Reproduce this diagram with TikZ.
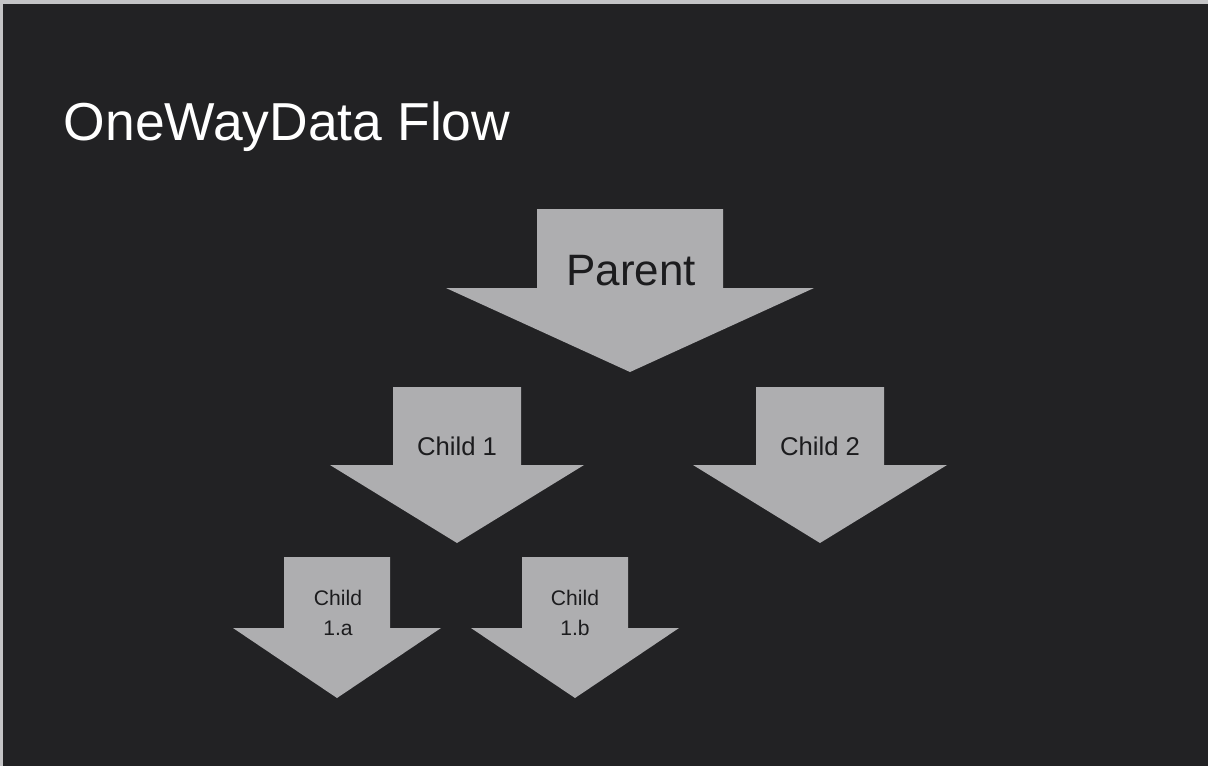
\documentclass[tikz,border=0pt]{standalone}
\usepackage{fontspec}
\setmainfont{Liberation Sans}
\definecolor{slidebg}{RGB}{34,34,36}
\definecolor{slideedge}{RGB}{196,196,198}
\definecolor{arrowgray}{RGB}{174,174,176}
\definecolor{labeldark}{RGB}{28,28,30}

% down arrow: centre x, top, shoulder, tip, half shaft, half head
\newcommand{\flowarrow}[6]{%
  \fill[arrowgray] ({#1-#5},#2) -- ({#1+#5},#2) -- ({#1+#5},#3) -- ({#1+#6},#3)
    -- (#1,#4) -- ({#1-#6},#3) -- ({#1-#5},#3) -- cycle;}

\begin{document}
\begin{tikzpicture}[
    x=0.01cm, y=-0.01cm,
    title/.style={text=white, anchor=base west, inner sep=0pt, font=\fontsize{15.2}{18}\selectfont},
    lbl/.style={text=labeldark, align=center, inner sep=0pt},
    biglbl/.style={lbl, font=\fontsize{12.5}{15}\selectfont},
    midlbl/.style={lbl, font=\fontsize{7.3}{9}\selectfont},
    smalllbl/.style={lbl, font=\fontsize{6}{8.6}\selectfont}
]
\fill[slideedge] (0,0) rectangle (1208,766);
\fill[slidebg] (3,4) rectangle (1208,766);
\useasboundingbox (0,0) rectangle (1208,766);

\node[title] (heading) at (63,140) {OneWayData Flow};

\flowarrow{630}{209}{288}{372}{93}{184}
\flowarrow{457}{387}{465}{543}{64}{127}
\flowarrow{820}{387}{465}{543}{64}{127}
\flowarrow{337}{557}{628}{698}{53}{104}
\flowarrow{575}{557}{628}{698}{53}{104}

\node[biglbl] (parent) at (631,271) {Parent};
\node[midlbl] (child1) at (457,446) {Child 1};
\node[midlbl] (child2) at (820,446) {Child 2};
\node[smalllbl] (child1a) at (338,613) {Child\\1.a};
\node[smalllbl] (child1b) at (575,613) {Child\\1.b};
\end{tikzpicture}
\end{document}
